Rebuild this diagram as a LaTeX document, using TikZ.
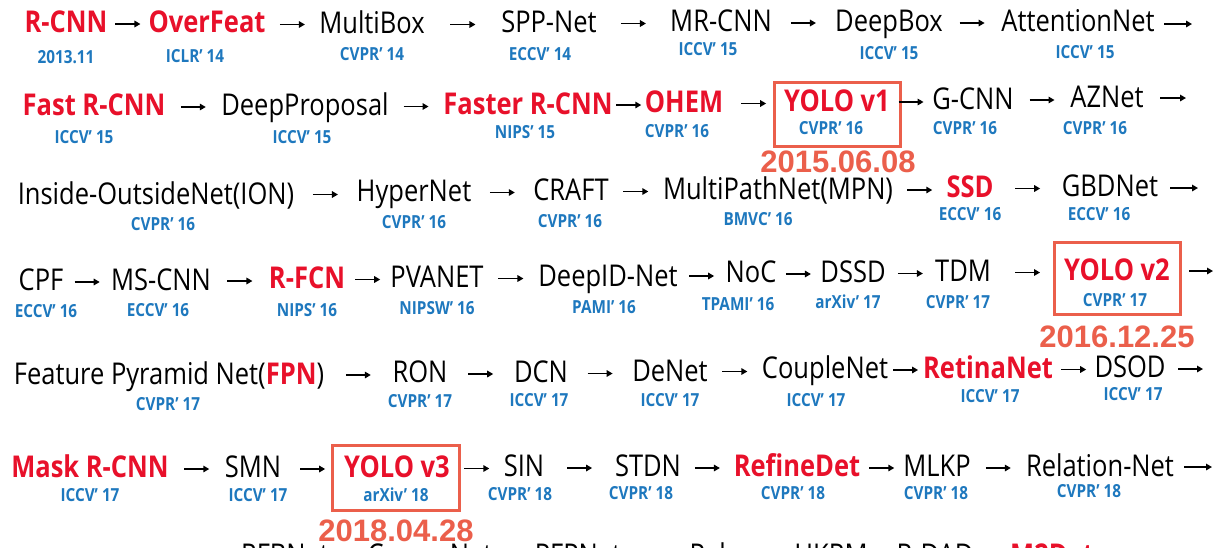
\documentclass[tikz,border=0pt]{standalone}
\usepackage{fontspec}
\usetikzlibrary{arrows.meta,calc}
\newfontfamily\mf[FakeStretch=0.85]{Open Sans}
\newfontfamily\df{Liberation Sans}
\definecolor{hired}{RGB}{232,16,42}
\definecolor{venue}{RGB}{30,120,190}
\definecolor{coral}{RGB}{235,95,75}
\tikzset{
  x=1pt, y=-1pt,
  mt/.style={font=\mf\fontsize{30}{30}\selectfont, text=black, text height=21.5pt, text depth=0pt, inner sep=0pt},
  rt/.style={mt, font=\mf\bfseries\fontsize{30}{30}\selectfont, text=hired},
  lab/.style={font=\mf\bfseries\fontsize{18}{18}\selectfont, text=venue, text height=13pt, text depth=0pt, inner sep=0pt},
  ybox/.style={draw=coral, line width=3pt, inner sep=0pt},
  datelab/.style={font=\df\bfseries\fontsize{31}{31}\selectfont, text=coral, text height=22pt, text depth=0pt, inner sep=0pt},
  conn/.style={line width=1.5pt, -{Triangle[length=6pt,width=6.5pt]}},
}
\newcommand\linkAB[2]{\draw[conn] ($(#1.east)!.5!(#2.west)+(-12.5,2)$) -- ++(25,0);}
\begin{document}
\begin{tikzpicture}
\fill[white] (0,0) rectangle (1225,547);
\useasboundingbox (0,0) rectangle (1225,547);
\clip (0,0) rectangle (1225,547);
% ---------- row 1
\node[rt] (rcnn) at (66,22) {R-CNN};
\node[rt] (overfeat) at (207,22) {OverFeat};
\node[mt] (multibox) at (372,23) {MultiBox};
\node[mt] (spp) at (549,22) {SPP-Net};
\node[mt] (mrcnn) at (721,21) {MR-CNN};
\node[mt] (deepbox) at (889,21) {DeepBox};
\node[mt] (attn) at (1078,21) {AttentionNet};
\node[lab] (l11) at (66,57) {2013.11};
\node[lab] (l12) at (195,56) {ICLR’ 14};
\node[lab] (l13) at (372,54) {CVPR’ 14};
\node[lab] (l14) at (540,54) {ECCV’ 14};
\node[lab] (l15) at (708,49) {ICCV’ 15};
\node[lab] (l16) at (889,53) {ICCV’ 15};
\node[lab] (l17) at (1085,52) {ICCV’ 15};
\coordinate (e1s) at (1164,24); \coordinate (e1e) at (1192,24);
\linkAB{rcnn}{overfeat}
\linkAB{overfeat}{multibox}
\linkAB{multibox}{spp}
\linkAB{spp}{mrcnn}
\linkAB{mrcnn}{deepbox}
\linkAB{deepbox}{attn}
\draw[conn] (e1s) -- (e1e);
% ---------- row 2
\node[rt] (fast) at (94,105) {Fast R-CNN};
\node[mt] (deepprop) at (305,105) {DeepProposal};
\node[rt] (faster) at (528,104) {Faster R-CNN};
\node[rt] (ohem) at (684,102) {OHEM};
\node[rt] (yolo1) at (837,101) {YOLO v1};
\node[mt] (gcnn) at (973,99) {G-CNN};
\node[mt] (aznet) at (1107,97) {AZNet};
\node[lab] (l21) at (84,137) {ICCV’ 15};
\node[lab] (l22) at (302,137) {ICCV’ 15};
\node[lab] (l23) at (525,132) {NIPS’ 15};
\node[lab] (l24) at (677,131) {CVPR’ 16};
\node[lab] (l25) at (831,128) {CVPR’ 16};
\node[lab] (l26) at (965,128) {CVPR’ 16};
\node[lab] (l27) at (1095,128) {CVPR’ 16};
\node[ybox, minimum width=126pt, minimum height=64pt] (box1) at (837,114) {};
\node[datelab] (d1) at (838,161) {2015.06.08};
\coordinate (e2s) at (1160,98); \coordinate (e2e) at (1186,98);
\linkAB{fast}{deepprop}
\linkAB{deepprop}{faster}
\linkAB{faster}{ohem}
\linkAB{ohem}{yolo1}
\linkAB{yolo1}{gcnn}
\linkAB{gcnn}{aznet}
\draw[conn] (e2s) -- (e2e);
% ---------- row 3
\node[mt] (ion) at (156,194) {Inside-OutsideNet(ION)};
\node[mt] (hyper) at (414,191) {HyperNet};
\node[mt] (craft) at (571,190) {CRAFT};
\node[mt] (mpn) at (778,189) {MultiPathNet(MPN)};
\node[rt] (ssd) at (970,187) {SSD};
\node[mt] (gbd) at (1110,186) {GBDNet};
\node[lab] (l31) at (163,224) {CVPR’ 16};
\node[lab] (l32) at (414,222) {CVPR’ 16};
\node[lab] (l33) at (570,221) {CVPR’ 16};
\node[lab] (l34) at (758,219) {BMVC’ 16};
\node[lab] (l35) at (970,214) {ECCV’ 16};
\node[lab] (l36) at (1099,214) {ECCV’ 16};
\coordinate (e3s) at (1170,188); \coordinate (e3e) at (1198,188);
\linkAB{ion}{hyper}
\linkAB{hyper}{craft}
\linkAB{craft}{mpn}
\linkAB{mpn}{ssd}
\linkAB{ssd}{gbd}
\draw[conn] (e3s) -- (e3e);
% ---------- row 4
\node[mt] (cpf) at (41,280) {CPF};
\node[mt] (mscnn) at (161,280) {MS-CNN};
\node[rt] (rfcn) at (307,278) {R-FCN};
\node[mt] (pva) at (437,277) {PVANET};
\node[mt] (deepid) at (608,276) {DeepID-Net};
\node[mt] (noc) at (751,272) {NoC};
\node[mt] (dssd) at (853,272) {DSSD};
\node[mt] (tdm) at (963,271) {TDM};
\node[rt] (yolo2) at (1117,270) {YOLO v2};
\node[lab] (l41) at (46,311) {ECCV’ 16};
\node[lab] (l42) at (158,310) {ECCV’ 16};
\node[lab] (l43) at (307,310) {NIPS’ 16};
\node[lab] (l44) at (437,308) {NIPSW’ 16};
\node[lab] (l45) at (604,307) {PAMI’ 16};
\node[lab] (l46) at (738,304) {TPAMI’ 16};
\node[lab] (l47) at (848,302) {arXiv’ 17};
\node[lab] (l48) at (958,302) {CVPR’ 17};
\node[lab] (l49) at (1115,300) {CVPR’ 17};
\node[ybox, minimum width=126pt, minimum height=72pt] (box2) at (1117,278) {};
\node[datelab] (d2) at (1117,336) {2016.12.25};
\coordinate (e4s) at (1189,271); \coordinate (e4e) at (1213,271);
\linkAB{cpf}{mscnn}
\linkAB{mscnn}{rfcn}
\linkAB{rfcn}{pva}
\linkAB{pva}{deepid}
\linkAB{deepid}{noc}
\linkAB{noc}{dssd}
\linkAB{dssd}{tdm}
\linkAB{tdm}{yolo2}
\draw[conn] (e4s) -- (e4e);
% ---------- row 5
\node[mt] (fpn) at (169,374) {Feature Pyramid Net(\textcolor{hired}{\bfseries FPN})};
\node[mt] (ron) at (420,372) {RON};
\node[mt] (dcn) at (541,372) {DCN};
\node[mt] (denet) at (670,371) {DeNet};
\node[mt] (couple) at (825,368) {CoupleNet};
\node[rt] (retina) at (988,368) {RetinaNet};
\node[mt] (dsod) at (1130,367) {DSOD};
\node[lab] (l51) at (168,404) {CVPR’ 17};
\node[lab] (l52) at (420,401) {CVPR’ 17};
\node[lab] (l53) at (539,400) {ICCV’ 17};
\node[lab] (l54) at (670,400) {ICCV’ 17};
\node[lab] (l55) at (816,400) {ICCV’ 17};
\node[lab] (l56) at (990,396) {ICCV’ 17};
\node[lab] (l57) at (1133,394) {ICCV’ 17};
\coordinate (e5s) at (1178,369); \coordinate (e5e) at (1203,369);
\linkAB{fpn}{ron}
\linkAB{ron}{dcn}
\linkAB{dcn}{denet}
\linkAB{denet}{couple}
\linkAB{couple}{retina}
\linkAB{retina}{dsod}
\draw[conn] (e5s) -- (e5e);
% ---------- row 6
\node[rt] (mask) at (90,467) {Mask R-CNN};
\node[mt] (smn) at (253,467) {SMN};
\node[rt] (yolo3) at (397,467) {YOLO v3};
\node[mt] (sin) at (524,466) {SIN};
\node[mt] (stdn) at (648,466) {STDN};
\node[rt] (refine) at (797,466) {RefineDet};
\node[mt] (mlkp) at (937,466) {MLKP};
\node[mt] (relation) at (1100,466) {Relation-Net};
\node[lab] (l61) at (90,495) {ICCV’ 17};
\node[lab] (l62) at (258,495) {ICCV’ 17};
\node[lab] (l63) at (396,495) {arXiv’ 18};
\node[lab] (l64) at (520,494) {CVPR’ 18};
\node[lab] (l65) at (641,493) {CVPR’ 18};
\node[lab] (l66) at (793,493) {CVPR’ 18};
\node[lab] (l67) at (936,493) {CVPR’ 18};
\node[lab] (l68) at (1089,491) {CVPR’ 18};
\node[ybox, minimum width=127pt, minimum height=65pt] (box3) at (396,478) {};
\node[datelab] (d3) at (396,530) {2018.04.28};
\coordinate (e6s) at (1184,467); \coordinate (e6e) at (1212,467);
\linkAB{mask}{smn}
\linkAB{smn}{yolo3}
\linkAB{yolo3}{sin}
\linkAB{sin}{stdn}
\linkAB{stdn}{refine}
\linkAB{refine}{mlkp}
\linkAB{mlkp}{relation}
\draw[conn] (e6s) -- (e6e);
% ---------- row 7 (cut off by the frame)
\node[mt] (rfb) at (285,555) {RFBNet};
\node[mt] (corner) at (430,555) {CornerNet};
\node[mt] (pfp) at (578,555) {PFPNet};
\node[mt] (pelee) at (722,555) {Pelee};
\node[mt] (hkrm) at (831,555) {HKRM};
\node[mt] (rdad) at (935,555) {R-DAD};
\node[rt] (m2det) at (1052,555) {M2Det};
\end{tikzpicture}
\end{document}
